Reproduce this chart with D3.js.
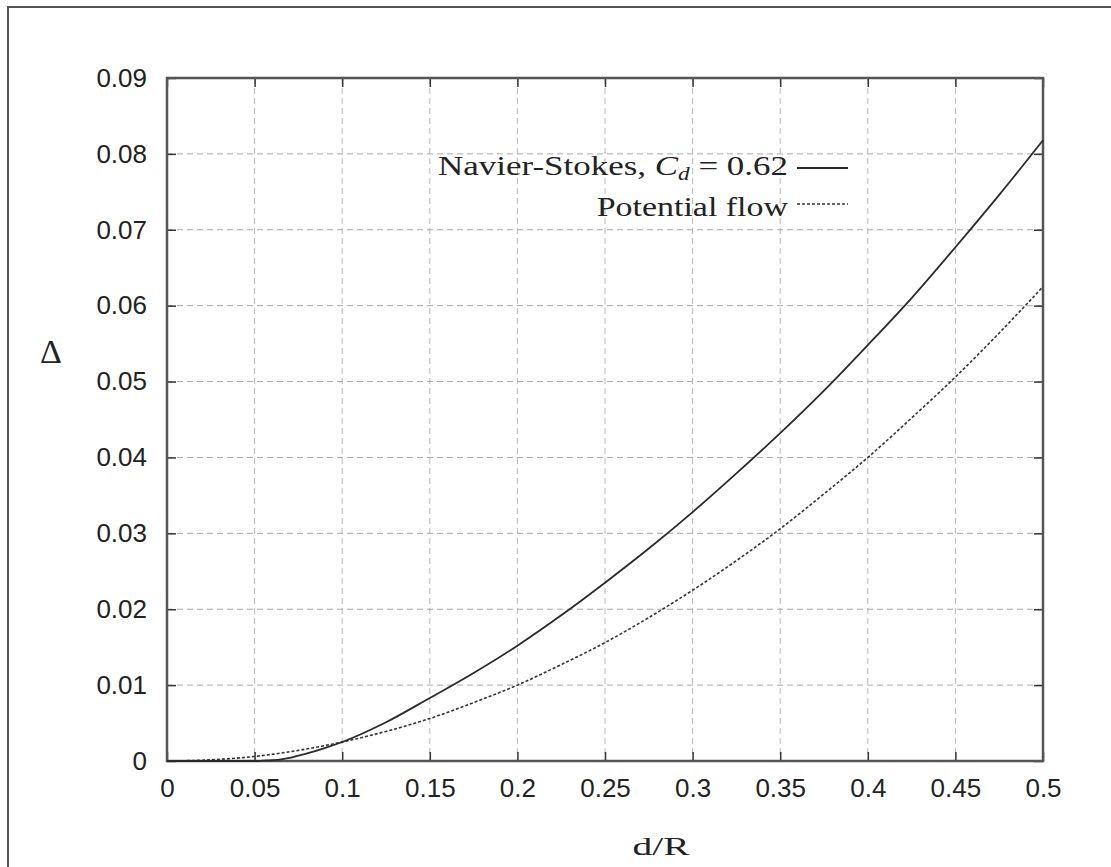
<!DOCTYPE html>
<html>
<head>
<meta charset="utf-8">
<script src="https://cdn.jsdelivr.net/npm/d3@7"></script>
<style>
  html, body { margin: 0; padding: 0; background: #fff; }
  svg { display: block; }
</style>
</head>
<body>
<svg id="chart" width="1111" height="867"></svg>
<script>
// ---- Data ----
const nsD      = [0.0, 0.025, 0.05, 0.055, 0.06, 0.065, 0.07, 0.075, 0.08, 0.09, 0.1, 0.125, 0.15, 0.175, 0.2, 0.225, 0.25, 0.275, 0.3, 0.325, 0.35, 0.375, 0.4, 0.425, 0.45, 0.475, 0.5];
const nsDelta  = [0.0, 0.0, 0.0, 0.00005, 0.0001, 0.0002, 0.0004, 0.0007, 0.001, 0.0017, 0.0025, 0.0051, 0.0083, 0.0116, 0.0152, 0.0192, 0.0235, 0.028, 0.0328, 0.0379, 0.0432, 0.0488, 0.0548, 0.061, 0.0677, 0.0746, 0.0818];
const potD     = [0.0, 0.025, 0.05, 0.075, 0.1, 0.125, 0.15, 0.175, 0.2, 0.225, 0.25, 0.275, 0.3, 0.325, 0.35, 0.375, 0.4, 0.425, 0.45, 0.475, 0.5];
const potDelta = [0.0, 0.00016, 0.0006, 0.0014, 0.0025, 0.0039, 0.0056, 0.0077, 0.01, 0.0127, 0.0156, 0.0189, 0.0225, 0.0264, 0.0306, 0.0352, 0.04, 0.0452, 0.0506, 0.0564, 0.0625];
const xTicks = [0, 0.05, 0.1, 0.15, 0.2, 0.25, 0.3, 0.35, 0.4, 0.45, 0.5];
const xTickLabels = ["0", "0.05", "0.1", "0.15", "0.2", "0.25", "0.3", "0.35", "0.4", "0.45", "0.5"];
const yTicks = [0, 0.01, 0.02, 0.03, 0.04, 0.05, 0.06, 0.07, 0.08, 0.09];
const yTickLabels = ["0", "0.01", "0.02", "0.03", "0.04", "0.05", "0.06", "0.07", "0.08", "0.09"];
const legendLabels = ["Navier-Stokes, ", "Potential flow"];
const xLabel = "d/R";
const yLabel = "Δ";

// ---- Layout ----
const svg = d3.select("#chart");
const L = 167, R = 1043, T = 78, B = 761;
const x = d3.scaleLinear().domain([0, 0.5]).range([L, R]);
const y = d3.scaleLinear().domain([0, 0.09]).range([B, T]);
const sans = "'Liberation Sans', Arimo, Arial, sans-serif";
const serif = "'Liberation Serif', 'Times New Roman', serif";

// outer frame (left and top edges visible)
svg.append("path")
  .attr("d", `M8,867 L8,7 L1111,7`)
  .attr("fill", "none").attr("stroke", "#555").attr("stroke-width", 2);

// grid
const grid = svg.append("g");
grid.selectAll("line.gx").data(xTicks.slice(1, -1)).enter().append("line")
  .attr("x1", d => x(d)).attr("x2", d => x(d)).attr("y1", T).attr("y2", B)
  .attr("stroke", "#b8b8b8").attr("stroke-width", 1).attr("stroke-dasharray", "6,4");
grid.selectAll("line.gy").data(yTicks.slice(1, -1)).enter().append("line")
  .attr("x1", L).attr("x2", R).attr("y1", d => y(d)).attr("y2", d => y(d))
  .attr("stroke", "#a8a8a8").attr("stroke-width", 1).attr("stroke-dasharray", "6,4");

// axes (d3 axes, ticks drawn inward, mirrored)
const tl = 9;
const axB = svg.append("g").attr("transform", `translate(0,${B})`)
  .call(d3.axisBottom(x).tickValues(xTicks).tickSize(-tl).tickFormat((d, i) => xTickLabels[i]).tickPadding(tl + 22));
const axT = svg.append("g").attr("transform", `translate(0,${T})`)
  .call(d3.axisTop(x).tickValues(xTicks).tickSize(-tl).tickFormat(""));
const axL = svg.append("g").attr("transform", `translate(${L},0)`)
  .call(d3.axisLeft(y).tickValues(yTicks).tickSize(-tl).tickFormat((d, i) => yTickLabels[i]).tickPadding(tl + 11));
const axR = svg.append("g").attr("transform", `translate(${R},0)`)
  .call(d3.axisRight(y).tickValues(yTicks).tickSize(-tl).tickFormat(""));
[axB, axT, axL, axR].forEach(g => {
  g.select(".domain").remove();
  g.selectAll(".tick line").attr("stroke", "#333").attr("stroke-width", 1.5);
  g.selectAll(".tick text").attr("font-family", sans).attr("font-size", 26).attr("fill", "#222");
});
axB.selectAll(".tick text").attr("dy", "0.2em");

// plot border
svg.append("rect").attr("x", L).attr("y", T).attr("width", R - L).attr("height", B - T)
  .attr("fill", "none").attr("stroke", "#555").attr("stroke-width", 2.5);

// curves
const line = d3.line().x(d => x(d[0])).y(d => y(d[1])).curve(d3.curveMonotoneX);
const ns = nsD.map((d, i) => [d, nsDelta[i]]);
const pot = potD.map((d, i) => [d, potDelta[i]]);
svg.append("path").datum(pot).attr("d", line)
  .attr("fill", "none").attr("stroke", "#333").attr("stroke-width", 1.6).attr("stroke-dasharray", "3,2");
svg.append("path").datum(ns).attr("d", line)
  .attr("fill", "none").attr("stroke", "#2a2a2a").attr("stroke-width", 1.8);

// legend
const lgRight = 788;
const t1 = svg.append("text").attr("font-family", serif).attr("font-size", 27).attr("fill", "#222")
  .attr("text-anchor", "end").attr("x", lgRight).attr("y", 175);
t1.append("tspan").text(legendLabels[0]);
t1.append("tspan").attr("font-style", "italic").text("C");
t1.append("tspan").attr("font-size", 18).attr("font-style", "italic").attr("dy", 5).text("d");
t1.append("tspan").attr("dy", -5).text(" = 0.62");
const t2 = svg.append("text").attr("font-family", serif).attr("font-size", 27).attr("fill", "#222")
  .attr("text-anchor", "end").attr("x", lgRight).attr("y", 216).text(legendLabels[1]);
// stretch horizontally to match reference widths
function fitWidth(t, target) {
  const w = t.node().getBBox().width;
  const s = target / w;
  t.attr("transform", `translate(${lgRight},0) scale(${s},1) translate(${-lgRight},0)`);
}
fitWidth(t1, 350);
fitWidth(t2, 192);
svg.append("line").attr("x1", 797).attr("x2", 848).attr("y1", 168).attr("y2", 168)
  .attr("stroke", "#2a2a2a").attr("stroke-width", 1.8);
svg.append("line").attr("x1", 797).attr("x2", 848).attr("y1", 204).attr("y2", 204)
  .attr("stroke", "#333").attr("stroke-width", 1.6).attr("stroke-dasharray", "3,2");

// axis labels
const xl = svg.append("text").attr("font-family", serif).attr("font-size", 26).attr("fill", "#222")
  .attr("text-anchor", "middle").attr("x", 661).attr("y", 855).text(xLabel);
(function () {
  const w = xl.node().getBBox().width, s = 58 / w;
  xl.attr("transform", `translate(661,0) scale(${s},1) translate(-661,0)`);
})();
svg.append("text").attr("font-family", serif).attr("font-size", 34).attr("fill", "#222")
  .attr("text-anchor", "middle").attr("x", 51).attr("y", 363).text(yLabel);
</script>
</body>
</html>
